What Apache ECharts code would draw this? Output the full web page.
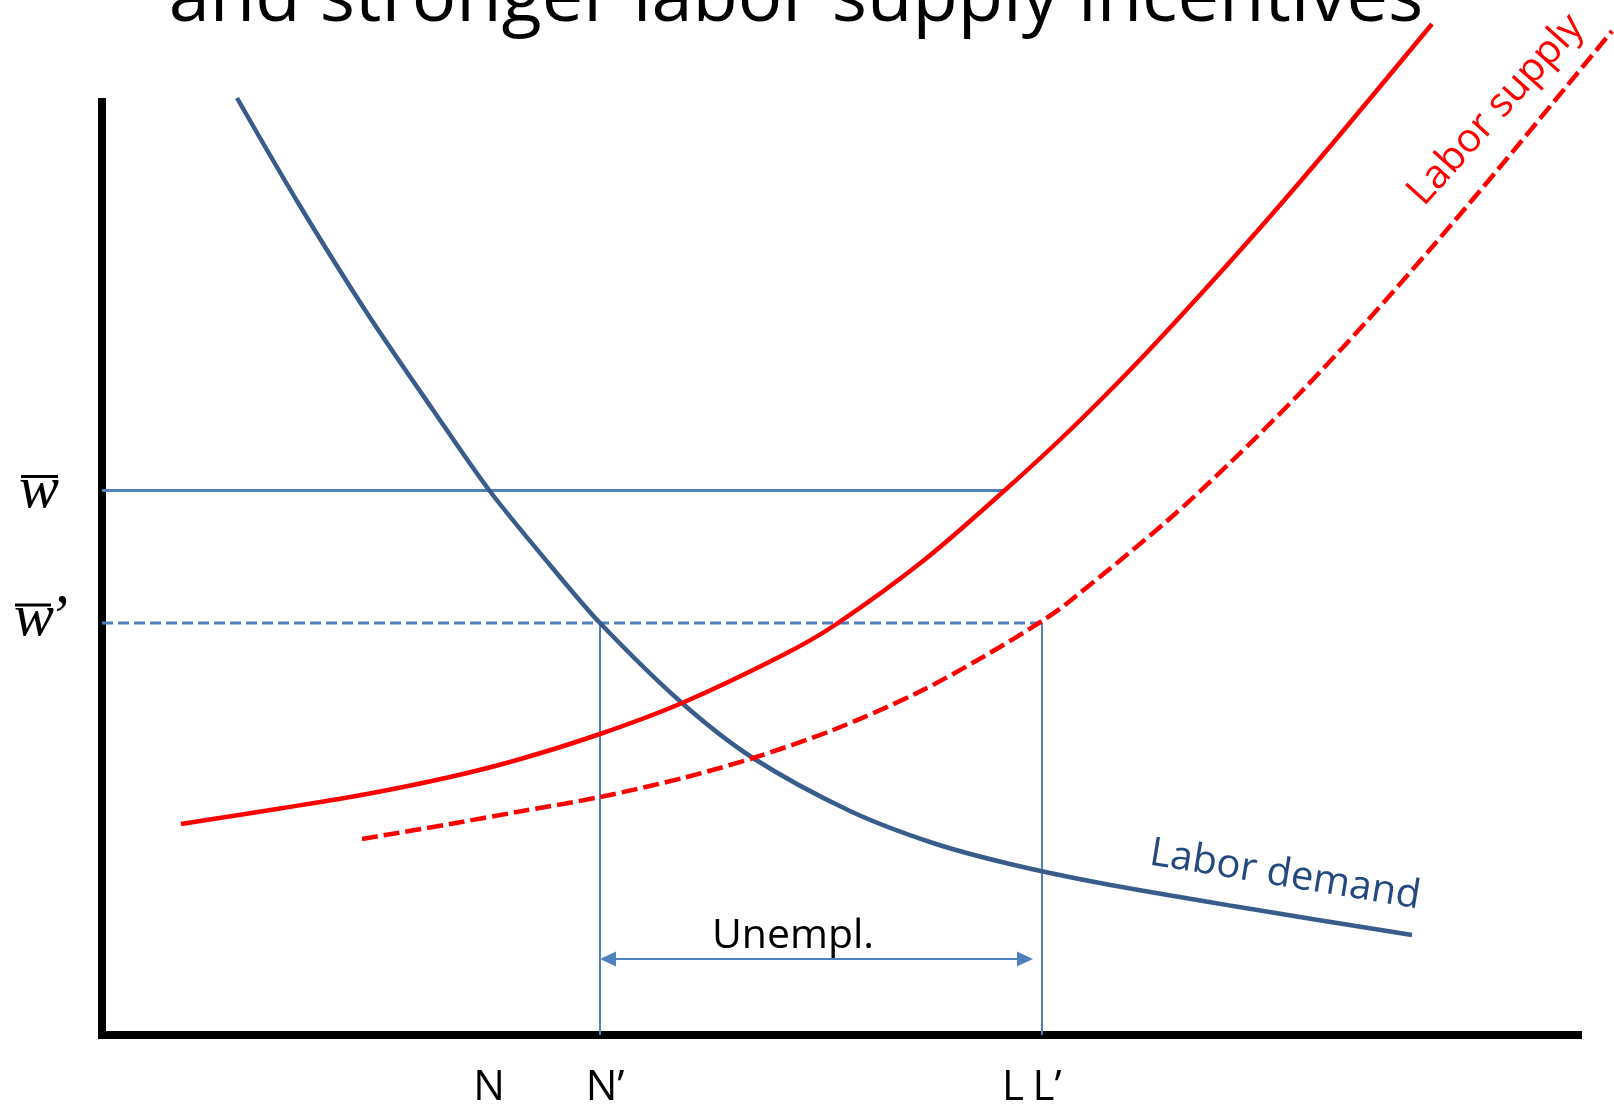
<!DOCTYPE html>
<html>
<head>
<meta charset="utf-8">
<script src="https://cdn.jsdelivr.net/npm/echarts@6/dist/echarts.min.js"></script>
<style>
  html, body { margin: 0; padding: 0; background: #fff; }
  #chart { width: 1614px; height: 1107px; }
</style>
</head>
<body>
<div id="chart"></div>
<script>
// values, in axis units (quantity on x, wage on y)
const demandX = [135, 198, 265, 331, 387, 448, 498, 580, 651, 748, 831, 908, 998, 1131, 1310]
const demandY = [937, 829, 722, 625, 545, 470, 412, 332, 277, 224, 192, 171, 152, 129, 100]

const supplyX = [79, 181, 265, 348, 415, 498, 580, 681, 733, 821, 902, 965, 1031, 1098, 1165, 1231, 1330]
const supplyY = [211, 227, 241, 258, 275, 301, 332, 380, 410, 474, 544, 602, 668, 740, 815, 892, 1011]

const supplyNewX = [260, 348, 415, 498, 581, 651, 731, 815, 881, 940, 968, 1065, 1131, 1198, 1265, 1331, 1398, 1510]
const supplyNewY = [196, 211, 223, 238, 257, 277, 305, 342, 378, 414, 434, 514, 575, 642, 714, 789, 868, 1004]

const wageLevels = [544.5, 412] // w bar, w bar'
const qtyLabels = ['N', 'N’', 'L', 'L’']
const qtyValues = [387, 498, 902, 940]
const unemplRange = [498, 931]
const unemplLevel = 76

const blue = '#4F81BD'
const pairs = (xs, ys) => xs.map((x, i) => [x, ys[i]])

const chart = echarts.init(document.getElementById('chart'))

const axisCommon = {
  type: 'value',
  min: 0,
  axisLine: { show: true, lineStyle: { color: '#000', width: 8, cap: 'square' } },
  axisTick: { show: false },
  axisLabel: { show: false },
  splitLine: { show: false },
}
const hiddenAxis = { type: 'value', min: 0, show: false }

// grid 0 only draws the two axis lines, grid 1 has the same scale
// but reaches the right edge so the curves are not cut off
const thinLine = (data, width, type) => ({
  type: 'line',
  xAxisIndex: 1,
  yAxisIndex: 1,
  data,
  symbol: 'none',
  silent: true,
  lineStyle: { color: blue, width, type: type || 'solid' },
})

const curve = (name, data, color, type) => ({
  name,
  type: 'line',
  xAxisIndex: 1,
  yAxisIndex: 1,
  data,
  smooth: 0.3,
  symbol: 'none',
  clip: false,
  silent: true,
  lineStyle: { color, width: 4.5, type: type || 'solid' },
})

chart.setOption({
  animation: false,
  grid: [
    { left: 102, right: 36, top: 102, bottom: 72 },
    { left: 102, right: 0, top: 102, bottom: 72 },
  ],
  xAxis: [
    { ...axisCommon, gridIndex: 0, max: 1476 },
    { ...hiddenAxis, gridIndex: 1, max: 1512 },
  ],
  yAxis: [
    { ...axisCommon, gridIndex: 0, max: 933 },
    { ...hiddenAxis, gridIndex: 1, max: 933 },
  ],
  series: [
    thinLine([[0, wageLevels[0]], [qtyValues[2], wageLevels[0]]], 3),
    thinLine([[0, wageLevels[1]], [qtyValues[3], wageLevels[1]]], 3, [11, 5]),
    thinLine([[qtyValues[1], 0], [qtyValues[1], wageLevels[1]]], 2),
    thinLine([[qtyValues[3], 0], [qtyValues[3], wageLevels[1]]], 2),
    {
      type: 'line',
      xAxisIndex: 1,
      yAxisIndex: 1,
      data: [],
      markLine: {
        silent: true,
        symbol: ['triangle', 'triangle'],
        symbolSize: [15, 16],
        label: { show: false },
        lineStyle: { color: blue, width: 2, type: 'solid' },
        data: [[{ coord: [unemplRange[0] + 8, unemplLevel] }, { coord: [unemplRange[1] - 8, unemplLevel] }]],
      },
    },
    curve('Labor demand', pairs(demandX, demandY), '#385D8A'),
    curve('Labor supply', pairs(supplyX, supplyY), '#FF0000'),
    curve('Labor supply (new)', pairs(supplyNewX, supplyNewY), '#FF0000', [16, 6]),
  ],
})

// text placed from the axis positions
const px = (x, y) => chart.convertToPixel({ gridIndex: 1 }, [x, y])
const text = (str, x, y, font, fill, align, rotation) => ({
  type: 'text',
  x, y,
  rotation: rotation || 0,
  silent: true,
  style: {
    text: str, font, fill: fill || '#000',
    align: align || 'center', textAlign: align || 'center',
    verticalAlign: 'middle', textVerticalAlign: 'middle',
  },
})
const bar = (x1, x2, y) => ({
  type: 'line',
  silent: true,
  shape: { x1, y1: y, x2, y2: y },
  style: { stroke: '#000', lineWidth: 3 },
})

const graphic = []
graphic.push(text('and stronger labor supply incentives', 796, 0, '74px "Open Sans"'))

const wFont = 'italic 60px "Liberation Serif"'
const w1 = px(0, wageLevels[0])
const w2 = px(0, wageLevels[1])
graphic.push(text('w', w1[0] - 63, w1[1] + 1, wFont))
graphic.push(bar(w1[0] - 81, w1[0] - 44, w1[1] - 14))
graphic.push(text('w', w2[0] - 88, w2[1] - 4, wFont, '#000', 'left'))
graphic.push(text('’', w2[0] - 54, w2[1] - 4, wFont, '#000', 'left'))
graphic.push(bar(w2[0] - 87, w2[0] - 51, w2[1] - 18))

const labelShift = [0, 5, 9, 5]
qtyLabels.forEach((label, i) => {
  const p = px(qtyValues[i], 0)
  graphic.push(text(label, p[0] + labelShift[i], p[1] + 53, '42px "Open Sans"'))
})

const u = px(unemplRange[0], unemplLevel)
graphic.push(text('Unempl.', u[0] + 193, u[1] - 23, '41px "Open Sans"'))
graphic.push(text('Labor supply', 1496, 110, '40px "Open Sans"', '#FF0000', 'center', 48 * Math.PI / 180))
graphic.push(text('Labor demand', 1285, 875, '40px "Open Sans"', '#24497F', 'center', -9.3 * Math.PI / 180))

chart.setOption({ graphic })
</script>
</body>
</html>
